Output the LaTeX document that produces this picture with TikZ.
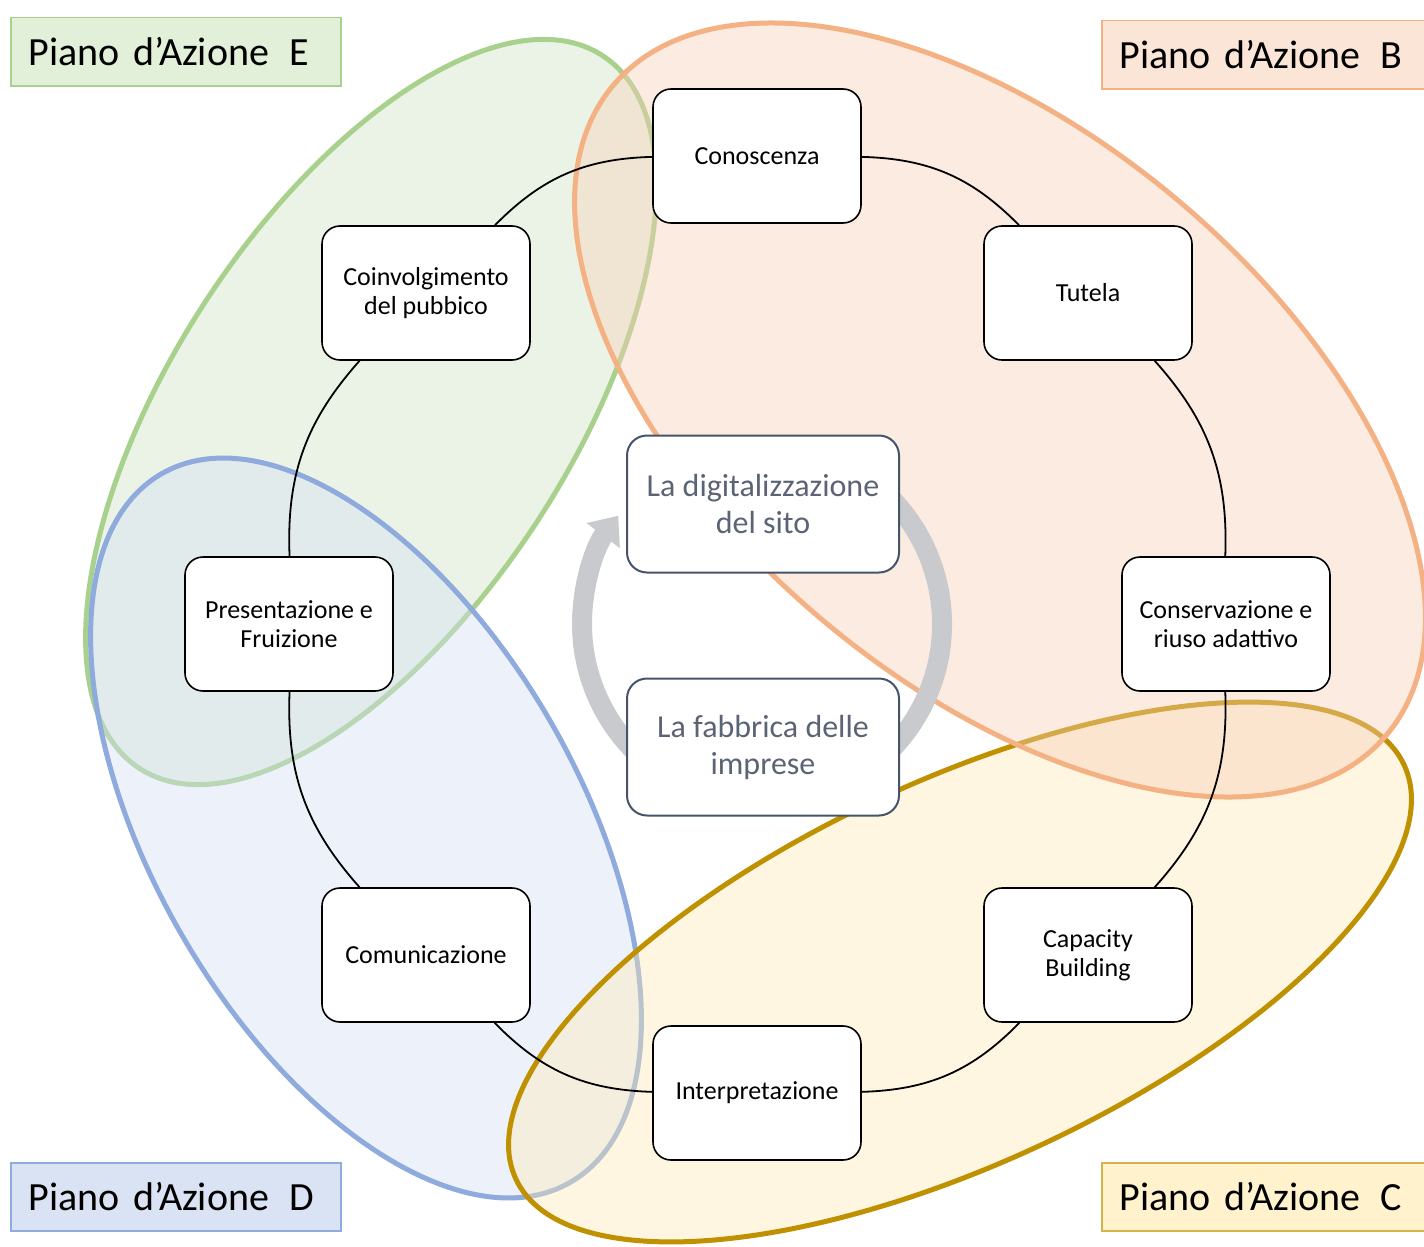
\documentclass[tikz,border=0pt]{standalone}
\usepackage{fontspec}
\setmainfont{Carlito}
\usepackage{tikz}
\usetikzlibrary{arrows.meta}

\definecolor{greenline}{HTML}{A9D18E}
\definecolor{greenfill}{HTML}{CDE1C0}
\definecolor{greenlabel}{HTML}{E2EFD9}
\definecolor{orangeline}{HTML}{F4B183}
\definecolor{orangefill}{HTML}{F7CDB4}
\definecolor{orangelabel}{HTML}{FBE5D6}
\definecolor{blueline}{HTML}{8FAADC}
\definecolor{bluefill}{HTML}{D2DEF2}
\definecolor{bluelabel}{HTML}{DAE3F3}
\definecolor{goldline}{HTML}{BF9000}
\definecolor{goldfill}{HTML}{FCE8B4}
\definecolor{goldlabel}{HTML}{FFF2CC}
\definecolor{goldframe}{HTML}{D4B24C}
\definecolor{hubline}{HTML}{44546A}
\definecolor{hubtext}{HTML}{5B6475}
\definecolor{ringgray}{HTML}{C9CACD}

\begin{document}
\begin{tikzpicture}[x=1pt,y=-1pt,
	zone/.style={line width=5pt, fill opacity=0.4},
	plan/.style={anchor=north west, line width=1.5pt, minimum height=68pt, text width=294pt, inner xsep=18pt, align=left, font=\fontsize{40}{44}\selectfont},
	stage/.style={draw=black, line width=1.6pt, fill=white, rounded corners=18pt, minimum width=208pt, minimum height=134pt, align=center, font=\fontsize{26}{29}\selectfont},
	hub/.style={draw=hubline, line width=2pt, fill=white, rounded corners=20pt, minimum width=272pt, minimum height=137pt, align=center, text=hubtext, font=\fontsize{32}{37}\selectfont},
	link/.style={draw, line width=1.8pt}]
\useasboundingbox (0,0) rectangle (1424,1247);

%action plans
\draw[zone, draw=greenline, fill=greenfill, rotate around={57:(371,412)}] (371,412) ellipse [x radius=425pt, y radius=199pt];
\draw[zone, draw=blueline, fill=bluefill, rotate around={-60:(366,828)}] (366,828) ellipse [x radius=409pt, y radius=213pt];
\draw[zone, draw=goldline, fill=goldfill, rotate around={25:(960,972)}] (960,972) ellipse [x radius=490pt, y radius=191pt];
\draw[zone, draw=orangeline, fill=orangefill, rotate around={-40:(1000,410)}] (1000,410) ellipse [x radius=505pt, y radius=275pt];

\node[plan, draw=greenline, fill=greenlabel] (planE) at (10,17) {Piano d’Azione\enspace E};
\node[plan, draw=orangeline, fill=orangelabel] (planB) at (1101,20) {Piano d’Azione\enspace B};
\node[plan, draw=blueline, fill=bluelabel] (planD) at (10,1162) {Piano d’Azione\enspace D};
\node[plan, draw=goldframe, fill=goldlabel] (planC) at (1101,1162) {Piano d’Azione\enspace C};

%cycle in the middle
\coordinate (hubc) at (762,624);
\draw[line width=20pt, ringgray, -{Triangle[width=40pt,length=25pt]}] (hubc) ++(60:180pt) arc[start angle=60, end angle=-217, radius=180pt];
\node[hub] (digit) at (763,504) {La digitalizzazione\\del sito};
\node[hub] (fabbr) at (763,747) {La fabbrica delle\\imprese};

%ring of stages
\node[stage] (con) at (757,156) {Conoscenza};
\node[stage] (tut) at (1088,293) {Tutela};
\node[stage] (cons) at (1226,624) {Conservazione e\\riuso adattivo};
\node[stage] (cap) at (1088,955) {Capacity\\Building};
\node[stage] (int) at (757,1093) {Interpretazione};
\node[stage] (com) at (426,955) {Comunicazione};
\node[stage] (pre) at (289,624) {Presentazione e\\Fruizione};
\node[stage] (coi) at (426,293) {Coinvolgimento\\del pubbico};

\path[link]
(con) edge[bend left=22] (tut)
(tut) edge[bend left=22] (cons)
(cons) edge[bend left=22] (cap)
(cap) edge[bend left=22] (int)
(int) edge[bend left=22] (com)
(com) edge[bend left=22] (pre)
(pre) edge[bend left=22] (coi)
(coi) edge[bend left=22] (con)
;
\end{tikzpicture}
\end{document}
